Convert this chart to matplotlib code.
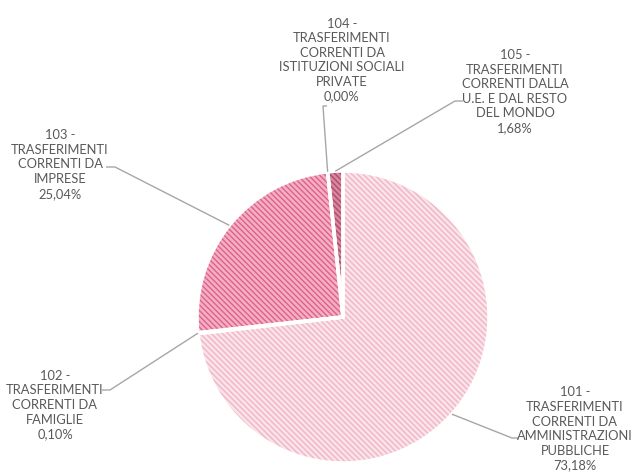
"""
Pie chart: trasferimenti correnti by source
"""

import matplotlib
matplotlib.use('Agg')
import matplotlib.pyplot as plt
import numpy as np

# data
codes = ['101', '102', '103', '104', '105']
names = ['TRASFERIMENTI\nCORRENTI DA\nAMMINISTRAZIONI\nPUBBLICHE',
         'TRASFERIMENTI\nCORRENTI DA\nFAMIGLIE',
         'TRASFERIMENTI\nCORRENTI DA\nIMPRESE',
         'TRASFERIMENTI\nCORRENTI DA\nISTITUZIONI SOCIALI\nPRIVATE',
         'TRASFERIMENTI\nCORRENTI DALLA\nU.E. E DAL RESTO\nDEL MONDO']
shares = [73.18, 0.10, 25.04, 0.00, 1.68]

# styling
face_colors = ['#fae3e9', '#f3b0c4', '#f3b0c4', '#d8879f', '#d8879f']
hatch_colors = ['#f0b5c6', '#df608a', '#df608a', '#b04a6d', '#b04a6d']
TEXT_COLOR = '#595959'
LINE_COLOR = '#a6a6a6'

plt.rcParams['font.family'] = ['Lato', 'DejaVu Sans']
plt.rcParams['hatch.linewidth'] = 1.0

W, H = 632, 475
fig = plt.figure(figsize=(W / 100, H / 100), dpi=100)
ax = fig.add_axes([0, 0, 1, 1])
ax.set_xlim(0, W)
ax.set_ylim(0, H)
ax.set_aspect('equal')
ax.axis('off')

cx, cy, r = 343, H - 317, 146

# hatched wedges
wedges, _ = ax.pie(shares, center=(cx, cy), radius=r, startangle=90,
                   counterclock=False, colors=face_colors, frame=False,
                   wedgeprops=dict(linewidth=0))
for w, hc in zip(wedges, hatch_colors):
    w.set_hatch('\\\\\\\\\\\\')
    w.set_edgecolor(hc)
    w.set_linewidth(0)

# white separators on top
ax.pie(shares, center=(cx, cy), radius=r, startangle=90, counterclock=False,
       colors=['none'] * len(shares), frame=False,
       wedgeprops=dict(edgecolor='white', linewidth=2.5, fill=False))
ax.set_xlim(0, W)
ax.set_ylim(0, H)

# label block centres and leader elbows (pixel coords, y from top)
label_pos = [(575, 429), (55, 405), (60, 164.5), (342, 60), (515, 91.5)]
elbows = [[(512, 438), (518, 438)],
          [(110, 390), (102, 390)],
          [(115, 167), (106, 167)],
          [(323, 106), (327, 106)],
          [(455, 101), (463, 101)]]

for w, code, name, val, (lx, ly), elb in zip(wedges, codes, names, shares,
                                            label_pos, elbows):
    pct = f'{val:.2f}'.replace('.', ',') + '%'
    ax.text(lx, H - ly, f'{code} -\n{name}\n{pct}', ha='center', va='center',
            fontsize=9.3, color=TEXT_COLOR, linespacing=1.26)
    ang = np.deg2rad((w.theta1 + w.theta2) / 2)
    xs = [cx + r * np.cos(ang)] + [p[0] for p in elb]
    ys = [cy + r * np.sin(ang)] + [H - p[1] for p in elb]
    ax.plot(xs, ys, color=LINE_COLOR, lw=1, solid_capstyle='butt')

plt.savefig('out.png', dpi=100)
print("Saved out.png")
